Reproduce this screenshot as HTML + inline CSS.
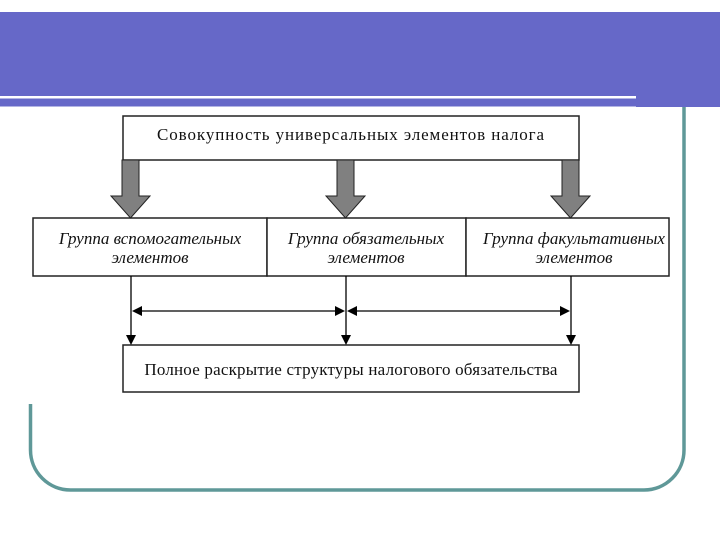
<!DOCTYPE html>
<html><head><meta charset="utf-8"><style>
html,body{margin:0;padding:0;background:#fff;width:720px;height:540px;overflow:hidden}
</style></head><body>
<svg width="720" height="540" viewBox="0 0 720 540" xmlns="http://www.w3.org/2000/svg">
<rect x="0" y="12" width="720" height="84" fill="#6668C8"/>
<rect x="0" y="96" width="636" height="2.5" fill="#fff"/>
<rect x="0" y="98.5" width="636" height="8" fill="#6668C8"/>
<rect x="636" y="96" width="84" height="11" fill="#6668C8"/>
<path d="M30.5 404 V450 A40 40 0 0 0 70.5 490 H644 A40 40 0 0 0 684 450 V107" fill="none" stroke="#5F9898" stroke-width="3.5"/>
<g stroke="#222" stroke-width="1.5" fill="#fff">
<rect x="123" y="116" width="456" height="44"/>
<rect x="33" y="218" width="234" height="58"/>
<rect x="267" y="218" width="199" height="58"/>
<rect x="466" y="218" width="203" height="58"/>
<rect x="123" y="345" width="456" height="47"/>
</g>
<g fill="#808080" stroke="#222" stroke-width="1">
<path d="M122 160 H139 V196 H150 L130.5 218 L111 196 H122 Z"/>
<path d="M337 160 H354 V196 H365 L345.5 218 L326 196 H337 Z"/>
<path d="M562 160 H579 V196 H590 L570.5 218 L551 196 H562 Z"/>
</g>
<g stroke="#000" stroke-width="1.3" fill="none">
<line x1="131" y1="276" x2="131" y2="336"/>
<line x1="346" y1="276" x2="346" y2="336"/>
<line x1="571" y1="276" x2="571" y2="336"/>
<line x1="140" y1="311" x2="337" y2="311"/>
<line x1="355" y1="311" x2="562" y2="311"/>
</g>
<g fill="#000">
<path d="M126 335 L136 335 L131 345 Z"/>
<path d="M341 335 L351 335 L346 345 Z"/>
<path d="M566 335 L576 335 L571 345 Z"/>
<path d="M132 311 L142 306 L142 316 Z"/>
<path d="M345 311 L335 306 L335 316 Z"/>
<path d="M347 311 L357 306 L357 316 Z"/>
<path d="M570 311 L560 306 L560 316 Z"/>
</g>
<g font-family="Liberation Serif, serif" font-size="17" fill="#111" text-anchor="middle">
<text x="351" y="140" letter-spacing="0.9">Совокупность универсальных элементов налога</text>
<text x="351" y="375" letter-spacing="0.2">Полное раскрытие структуры налогового обязательства</text>
<g font-style="italic">
<text x="150" y="244">Группа вспомогательных</text>
<text x="150" y="263">элементов</text>
<text x="366" y="244">Группа обязательных</text>
<text x="366" y="263">элементов</text>
<text x="574" y="244">Группа факультативных</text>
<text x="574" y="263">элементов</text>
</g>
</g>
</svg>
</body></html>
